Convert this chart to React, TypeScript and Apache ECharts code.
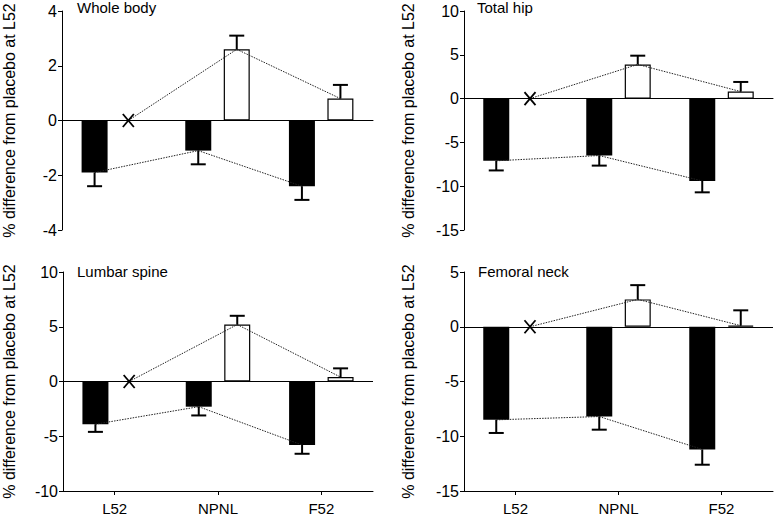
import React, { useEffect, useRef } from "react";
import * as echarts from "echarts";

const categories = ["L52", "NPNL", "F52"];

const panelTitles = ["Whole body", "Total hip", "Lumbar spine", "Femoral neck"];

// black bars (mean, SE)
const wholeBodyBlack = [-1.9, -1.1, -2.4];
const wholeBodyBlackErr = [0.5, 0.5, 0.5];
const wholeBodyWhite = [0, 2.6, 0.8];
const wholeBodyWhiteErr = [null, 0.5, 0.5];

const totalHipBlack = [-7.1, -6.5, -9.4];
const totalHipBlackErr = [1.1, 1.15, 1.3];
const totalHipWhite = [0, 3.9, 0.8];
const totalHipWhiteErr = [null, 1.0, 1.1];

const lumbarBlack = [-3.9, -2.3, -5.8];
const lumbarBlackErr = [0.7, 0.8, 0.8];
const lumbarWhite = [0, 5.2, 0.4];
const lumbarWhiteErr = [null, 0.8, 0.8];

const femoralBlack = [-8.5, -8.2, -11.2];
const femoralBlackErr = [1.2, 1.2, 1.4];
const femoralWhite = [0, 2.5, 0.1];
const femoralWhiteErr = [null, 1.3, 1.4];

const yMins = [-4, -15, -10, -15];
const yMaxs = [4, 10, 10, 5];
const yIntervals = [2, 5, 5, 5];

const panels = [
  { black: wholeBodyBlack, blackErr: wholeBodyBlackErr, white: wholeBodyWhite, whiteErr: wholeBodyWhiteErr },
  { black: totalHipBlack, blackErr: totalHipBlackErr, white: totalHipWhite, whiteErr: totalHipWhiteErr },
  { black: lumbarBlack, blackErr: lumbarBlackErr, white: lumbarWhite, whiteErr: lumbarWhiteErr },
  { black: femoralBlack, blackErr: femoralBlackErr, white: femoralWhite, whiteErr: femoralWhiteErr },
];

const FONT = "'Liberation Sans', Arial, sans-serif";
const BAR_W = 26;
const OFF = 19.25;
const X_OFF = 14.5;

const grids = [
  { left: 62, top: 11, width: 311, height: 219 },
  { left: 464, top: 11, width: 309, height: 219 },
  { left: 63, top: 272, width: 310, height: 219 },
  { left: 464, top: 272, width: 309, height: 219 },
];
const nameGaps = [45, 48, 46, 48];
const titlePos = [
  { left: 77, top: 0 },
  { left: 477, top: 0 },
  { left: 77, top: 264 },
  { left: 478, top: 264 },
];

function pt(api: any, i: number, v: number, off: number) {
  const c = api.coord([i, v]);
  return [c[0] + off, c[1]];
}

function errorSeries(g: number, vals: number[], errs: (number | null)[], off: number) {
  return {
    type: "custom",
    xAxisIndex: g,
    yAxisIndex: g,
    z: 6,
    silent: true,
    data: vals.map((v, i) => [i, v, errs[i] == null ? 0 : errs[i]]),
    renderItem: (params: any, api: any) => {
      const i = params.dataIndex;
      const e = errs[i];
      if (e == null) return { type: "group", children: [] };
      const m = vals[i];
      const sign = m < 0 ? -1 : 1;
      const a = pt(api, i, m, off);
      const b = pt(api, i, m + sign * e, off);
      const st = { stroke: "#000", lineWidth: 2 };
      return {
        type: "group",
        children: [
          { type: "line", shape: { x1: a[0], y1: a[1], x2: b[0], y2: b[1] }, style: st },
          { type: "line", shape: { x1: b[0] - 7.5, y1: b[1], x2: b[0] + 7.5, y2: b[1] }, style: st },
        ],
      };
    },
  };
}

function connectorSeries(g: number, vals: number[], offs: number[], withX: boolean) {
  return {
    type: "custom",
    xAxisIndex: g,
    yAxisIndex: g,
    z: 5,
    silent: true,
    data: vals.map((v, i) => [i, v]),
    renderItem: (params: any, api: any) => {
      const i = params.dataIndex;
      const children: any[] = [];
      if (i < vals.length - 1) {
        const a = pt(api, i, vals[i], offs[i]);
        const b = pt(api, i + 1, vals[i + 1], offs[i + 1]);
        children.push({
          type: "line",
          shape: { x1: a[0], y1: a[1], x2: b[0], y2: b[1] },
          style: { stroke: "#222", lineWidth: 1, lineDash: [1.5, 1.2] },
        });
      }
      if (withX && i === 0) {
        const c = pt(api, 0, vals[0], offs[0]);
        const st = { stroke: "#000", lineWidth: 1.8 };
        children.push({ type: "line", shape: { x1: c[0] - 5.5, y1: c[1] - 6.5, x2: c[0] + 5.5, y2: c[1] + 6.5 }, style: st });
        children.push({ type: "line", shape: { x1: c[0] + 5.5, y1: c[1] - 6.5, x2: c[0] - 5.5, y2: c[1] + 6.5 }, style: st });
      }
      return { type: "group", children };
    },
  };
}

export default function App() {
  const ref = useRef<HTMLDivElement>(null);
  useEffect(() => {
    document.body.style.margin = "0";
    if (!ref.current) return;
    const chart = echarts.init(ref.current, null, { renderer: "svg" });
    const xAxes: any[] = [];
    const yAxes: any[] = [];
    const series: any[] = [];
    panels.forEach((p, g) => {
      const bottom = g >= 2;
      xAxes.push({
        type: "category",
        gridIndex: g,
        data: categories,
        axisLine: { show: true, onZero: !bottom, lineStyle: { color: "#000", width: 1 } },
        axisTick: { show: bottom, alignWithLabel: true, length: 4, lineStyle: { color: "#000", width: 1 } },
        axisLabel: { show: bottom, fontSize: 15, color: "#000", fontFamily: FONT, margin: 10 },
        splitLine: { show: false },
      });
      yAxes.push({
        type: "value",
        gridIndex: g,
        min: yMins[g],
        max: yMaxs[g],
        interval: yIntervals[g],
        name: "% difference from placebo at L52",
        nameLocation: "middle",
        nameGap: nameGaps[g],
        nameTextStyle: { fontSize: 16, color: "#000", fontFamily: FONT },
        axisLine: { show: true, lineStyle: { color: "#000", width: 1 } },
        axisTick: { show: true, length: 4, lineStyle: { color: "#000", width: 1 } },
        axisLabel: { fontSize: 16, color: "#000", fontFamily: FONT, margin: 5 },
        splitLine: { show: false },
      });
      series.push({
        type: "bar",
        xAxisIndex: g,
        yAxisIndex: g,
        data: p.black,
        barWidth: BAR_W,
        barGap: "48%",
        itemStyle: { color: "#000" },
        silent: true,
        markLine: bottom
          ? {
              silent: true,
              symbol: "none",
              label: { show: false },
              lineStyle: { color: "#000", width: 1, type: "solid" },
              data: [{ yAxis: 0 }],
            }
          : undefined,
      });
      series.push({
        type: "bar",
        xAxisIndex: g,
        yAxisIndex: g,
        data: p.white.map((v, i) => (i === 0 ? "-" : v)),
        barWidth: BAR_W,
        barGap: "48%",
        itemStyle: { color: "#fff", borderColor: "#000", borderWidth: 1.2 },
        silent: true,
      });
      series.push(errorSeries(g, p.black, p.blackErr, -OFF));
      series.push(errorSeries(g, p.white, p.whiteErr, OFF));
      series.push(connectorSeries(g, p.black, [-OFF, -OFF, -OFF], false));
      series.push(connectorSeries(g, p.white, [X_OFF, OFF, OFF], true));
    });
    chart.setOption({
      animation: false,
      backgroundColor: "#fff",
      title: panelTitles.map((t, g) => ({
        text: t,
        left: titlePos[g].left,
        top: titlePos[g].top,
        padding: 0,
        textStyle: { fontSize: 15, fontWeight: "normal", color: "#000", fontFamily: FONT },
      })),
      grid: grids,
      xAxis: xAxes,
      yAxis: yAxes,
      series,
    });
    return () => chart.dispose();
  }, []);
  return <div ref={ref} style={{ width: 775, height: 520 }} />;
}
